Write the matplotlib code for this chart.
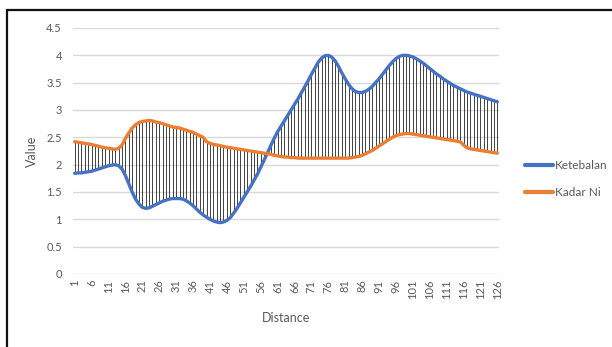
import matplotlib
matplotlib.use('Agg')
import matplotlib.pyplot as plt
import numpy as np
from matplotlib.patches import Rectangle

# distance index 1..126
distance = list(range(1, 127))

ketebalan = [
    1.84, 1.85, 1.85, 1.86, 1.87, 1.88, 1.90, 1.92, 1.94, 1.96,
    1.98, 1.99, 2.00, 1.98, 1.92, 1.80, 1.65, 1.50, 1.37, 1.28,
    1.22, 1.20, 1.21, 1.24, 1.27, 1.30, 1.33, 1.35, 1.37, 1.38,
    1.38, 1.38, 1.37, 1.34, 1.30, 1.25, 1.19, 1.13, 1.08, 1.04,
    1.00, 0.97, 0.95, 0.94, 0.95, 0.98, 1.03, 1.11, 1.20, 1.30,
    1.40, 1.50, 1.60, 1.71, 1.82, 1.95, 2.08, 2.21, 2.35, 2.48,
    2.60, 2.70, 2.80, 2.90, 3.00, 3.10, 3.20, 3.31, 3.42, 3.53,
    3.65, 3.76, 3.87, 3.95, 3.99, 4.00, 3.97, 3.90, 3.80, 3.68,
    3.57, 3.47, 3.39, 3.34, 3.32, 3.32, 3.34, 3.38, 3.43, 3.50,
    3.57, 3.65, 3.73, 3.81, 3.88, 3.94, 3.98, 4.00, 4.00, 3.99,
    3.97, 3.94, 3.90, 3.86, 3.81, 3.76, 3.71, 3.66, 3.62, 3.57,
    3.53, 3.49, 3.45, 3.42, 3.39, 3.36, 3.33, 3.31, 3.29, 3.27,
    3.25, 3.23, 3.21, 3.19, 3.17, 3.15,
]

kadar_ni = [
    2.42, 2.41, 2.40, 2.39, 2.38, 2.37, 2.35, 2.34, 2.32, 2.31,
    2.30, 2.29, 2.28, 2.30, 2.36, 2.48, 2.58, 2.67, 2.73, 2.77,
    2.79, 2.80, 2.81, 2.80, 2.78, 2.77, 2.75, 2.73, 2.71, 2.69,
    2.68, 2.67, 2.65, 2.63, 2.61, 2.59, 2.56, 2.53, 2.50, 2.42,
    2.39, 2.37, 2.36, 2.35, 2.33, 2.32, 2.31, 2.30, 2.29, 2.28,
    2.27, 2.26, 2.25, 2.24, 2.23, 2.22, 2.21, 2.20, 2.19, 2.17,
    2.16, 2.15, 2.14, 2.14, 2.13, 2.13, 2.12, 2.12, 2.12, 2.12,
    2.12, 2.12, 2.12, 2.12, 2.12, 2.12, 2.12, 2.12, 2.12, 2.12,
    2.12, 2.12, 2.13, 2.14, 2.15, 2.17, 2.20, 2.23, 2.26, 2.30,
    2.34, 2.38, 2.42, 2.46, 2.50, 2.53, 2.55, 2.56, 2.57, 2.57,
    2.56, 2.55, 2.54, 2.53, 2.52, 2.51, 2.50, 2.49, 2.48, 2.47,
    2.46, 2.45, 2.44, 2.43, 2.42, 2.36, 2.31, 2.29, 2.28, 2.27,
    2.26, 2.25, 2.24, 2.23, 2.22, 2.21,
]

y_ticks = [0, 0.5, 1, 1.5, 2, 2.5, 3, 3.5, 4, 4.5]

plt.rcParams['font.family'] = ['Lato', 'DejaVu Sans']
text_grey = '#595959'

W, H = 612, 347
fig = plt.figure(figsize=(W / 100, H / 100), dpi=100)
fig.patch.set_facecolor('white')

# outer chart frame
fig.patches.append(Rectangle((7 / W, -0.1), 1.0, (H - 10) / H + 0.1,
                             transform=fig.transFigure, fill=False,
                             edgecolor='#111111', lw=1.6))

ax = fig.add_axes([73 / W, (H - 274) / H, 426 / W, 246 / H])

x = np.array(distance)
lo = np.minimum(ketebalan, kadar_ni)
hi = np.maximum(ketebalan, kadar_ni)

# high-low lines between the two series
ax.vlines(x, lo, hi, color='#222222', lw=0.6, zorder=2)

ax.plot(x, ketebalan, color='#4472C4', lw=2.4, label='Ketebalan', zorder=3,
        solid_capstyle='round')
ax.plot(x, kadar_ni, color='#ED7D31', lw=2.4, label='Kadar Ni', zorder=3,
        solid_capstyle='round')

ax.set_xlim(0.5, 126.5)
ax.set_ylim(0, 4.5)
ax.set_yticks(y_ticks)
ax.set_yticklabels([('%g' % v) for v in y_ticks])
ax.set_xticks(distance[::5])
ax.set_xticklabels([str(d) for d in distance[::5]], rotation=90)
ax.tick_params(axis='both', length=0, colors=text_grey, labelsize=8)
ax.tick_params(axis='y', pad=8)
ax.tick_params(axis='x', pad=4)
ax.grid(axis='y', color='#d9d9d9', lw=1)
ax.set_axisbelow(True)
for s in ax.spines.values():
    s.set_visible(False)

ax.set_xlabel('Distance', color=text_grey, fontsize=9, labelpad=9)
ax.set_ylabel('Value', color=text_grey, fontsize=9, labelpad=6)

leg = ax.legend(loc='center left', bbox_to_anchor=(1.035, 0.385), frameon=False,
                fontsize=8.5, handlelength=2.4, handletextpad=0.2,
                labelspacing=1.35, labelcolor=text_grey)
for line in leg.get_lines():
    line.set_linewidth(3)

fig.savefig('out.png', dpi=100)
